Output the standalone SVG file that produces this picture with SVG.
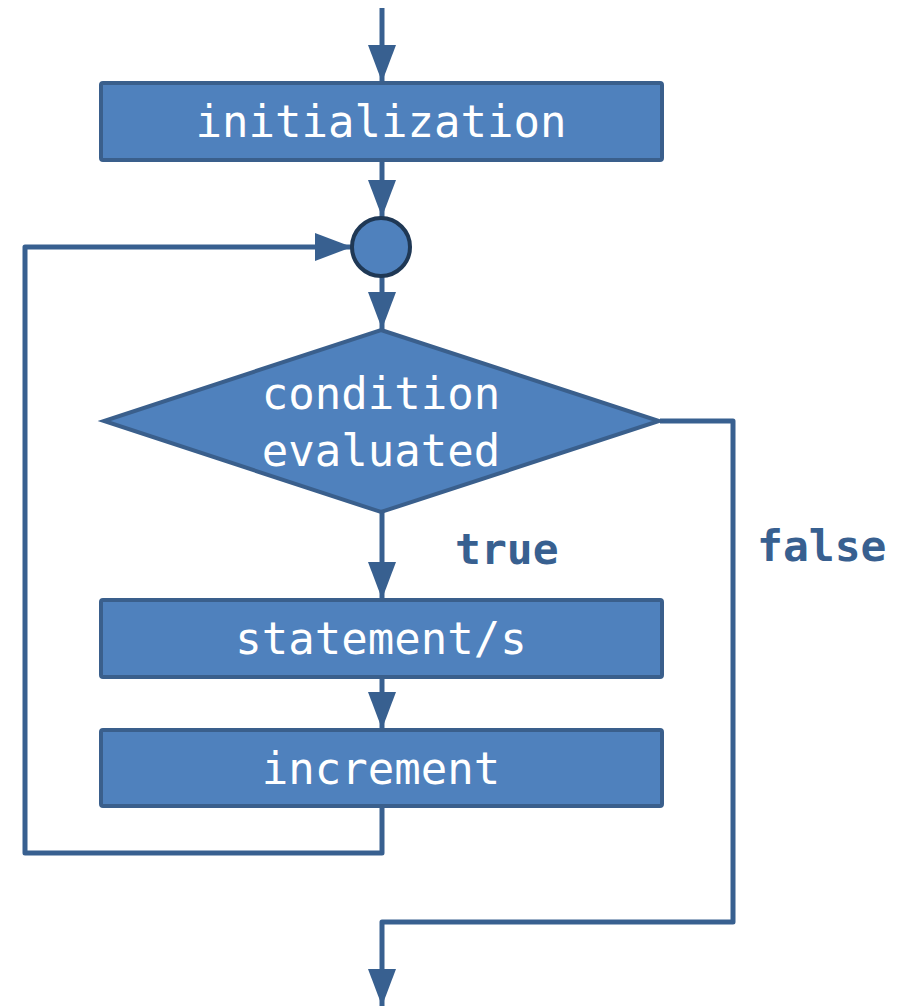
<svg xmlns="http://www.w3.org/2000/svg" width="903" height="1008" viewBox="0 0 903 1008">
  <style>
    .box { fill: #4f81bd; stroke: #3a5f8c; stroke-width: 4; }
    .hub { fill: #4f81bd; stroke: #1f3855; stroke-width: 4; }
    .lbl { font-family: "DejaVu Sans Mono", "Liberation Mono", monospace; font-size: 44px; fill: #ffffff; text-anchor: middle; }
    .edge { fill: none; stroke: #386090; stroke-width: 5; stroke-linejoin: round; }
    .tag { font-family: "DejaVu Sans Mono", "Liberation Mono", monospace; font-size: 43px; font-weight: bold; fill: #386090; }
  </style>
  <defs>
    <marker id="arrow" markerUnits="userSpaceOnUse" markerWidth="37" markerHeight="28" refX="37" refY="14" viewBox="0 0 37 28" orient="auto">
      <path d="M0,0 L37,14 L0,28 Z" fill="#386090"/>
    </marker>
  </defs>

  <g id="connectors">
    <path class="edge" d="M382,8 V82" marker-end="url(#arrow)"/>
    <path class="edge" d="M382,160 V217" marker-end="url(#arrow)"/>
    <path class="edge" d="M382,276 V329" marker-end="url(#arrow)"/>
    <path class="edge" d="M382,512 V599" marker-end="url(#arrow)"/>
    <path class="edge" d="M382,677 V729" marker-end="url(#arrow)"/>
    <path class="edge" d="M382,806 V853 H25 V247 H352" marker-end="url(#arrow)"/>
    <path class="edge" d="M660,421 H733 V922 H382 V1006" marker-end="url(#arrow)"/>
  </g>

  <g id="init">
    <rect class="box" x="101" y="83" width="561" height="77" rx="2"/>
    <text class="lbl" x="381" y="137">initialization</text>
  </g>

  <g id="junction">
    <circle class="hub" cx="381" cy="247" r="29"/>
  </g>

  <g id="condition">
    <polygon class="box" points="381,330 659,421 381,512 104,421"/>
    <text class="lbl" x="381" y="409">condition</text>
    <text class="lbl" x="381" y="466">evaluated</text>
  </g>

  <g id="statements">
    <rect class="box" x="101" y="600" width="561" height="77" rx="2"/>
    <text class="lbl" x="381" y="654">statement/s</text>
  </g>

  <g id="increment">
    <rect class="box" x="101" y="730" width="561" height="76" rx="2"/>
    <text class="lbl" x="381" y="784">increment</text>
  </g>

  <text class="tag" x="455" y="564">true</text>
  <text class="tag" x="757" y="561">false</text>
</svg>
